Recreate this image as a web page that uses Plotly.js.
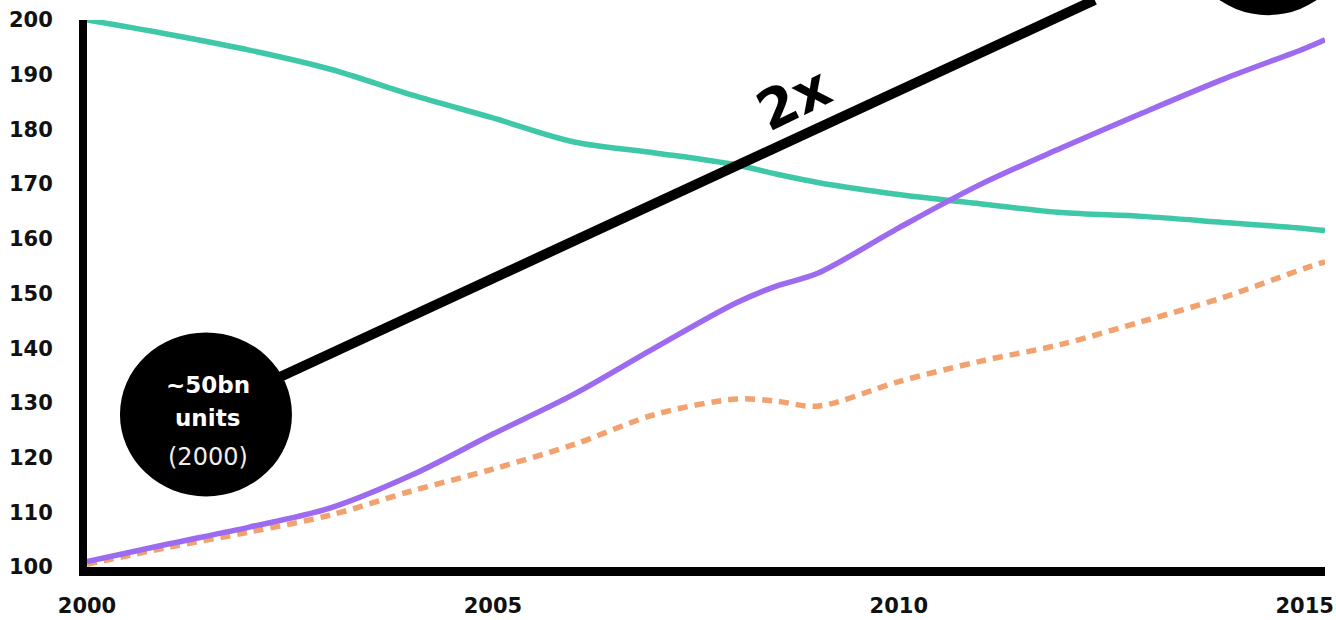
<!DOCTYPE html>
<html>
<head>
<meta charset="utf-8">
<script src="https://cdn.plot.ly/plotly-3.0.1.min.js"></script>
<style>html,body{margin:0;padding:0;background:#fff;}#chart{width:1336px;height:620px;}</style>
</head>
<body>
<div id="chart"></div>
<script>
// Index values (2000 = 100)
var years = [2000, 2001, 2002, 2003, 2004, 2005, 2006, 2007, 2008, 2008.5, 2009, 2010, 2011, 2012, 2013, 2014, 2015, 2015.25];
var tealSeries   = [200, 197.4, 194.5, 191.0, 186.3, 182.1, 177.7, 175.7, 173.5, 171.8, 170.3, 168.1, 166.4, 164.8, 164.1, 163.0, 161.9, 161.5];
var purpleSeries = [101, 104.2, 107.3, 110.8, 116.8, 124.3, 131.6, 140.1, 148.3, 151.4, 153.7, 162.0, 169.9, 176.6, 183.0, 189.2, 194.8, 196.4];
var orangeSeries = [100.5, 103.6, 106.4, 109.5, 113.9, 117.9, 122.4, 127.9, 130.7, 130.3, 129.4, 133.9, 137.6, 140.7, 144.9, 149.3, 154.6, 155.8];
var xTickVals = [2000, 2005, 2010, 2015];
var xTickText = ['2000', '2005', '2010', '2015'];
var yTickVals = [100, 110, 120, 130, 140, 150, 160, 170, 180, 190, 200];
var yTickText = ['100', '110', '120', '130', '140', '150', '160', '170', '180', '190', '200'];
var circleLabel = ['~50bn', 'units', '(2000)'];
var doublingLabel = '2x';

var tickFont = {family: 'DejaVu Sans', size: 21, color: '#111', weight: 'bold'};

var traces = [
  {x: years, y: tealSeries, mode: 'lines', line: {color: '#3fc8a8', width: 5.5, shape: 'spline', smoothing: 0.9}, hoverinfo: 'skip'},
  {x: years, y: orangeSeries, mode: 'lines', line: {color: '#f2a26e', width: 5.5, dash: '10px,7px', shape: 'spline', smoothing: 0.9}, hoverinfo: 'skip'},
  {x: years, y: purpleSeries, mode: 'lines', line: {color: '#9d6bf0', width: 5.5, shape: 'spline', smoothing: 0.9}, hoverinfo: 'skip'}
];

var layout = {
  width: 1336, height: 620,
  margin: {l: 87, r: 11, t: 20, b: 53},
  paper_bgcolor: '#fff', plot_bgcolor: '#fff',
  showlegend: false,
  xaxis: {
    range: [2000, 2015.25], tickvals: xTickVals, ticktext: xTickText,
    showgrid: false, zeroline: false, showline: true, linecolor: '#000', linewidth: 9,
    ticks: '', tickfont: tickFont, ticklabelstandoff: 12
  },
  yaxis: {
    range: [100, 200], tickvals: yTickVals, ticktext: yTickText,
    showgrid: false, zeroline: false, showline: true, linecolor: '#000', linewidth: 8,
    ticks: '', tickfont: tickFont, ticklabelstandoff: 22
  },
  shapes: [
    {type: 'line', xref: 'paper', yref: 'paper', x0: 0.12, y0: 0.31, x1: 0.814, y1: 1.0365,
     line: {color: '#000', width: 10}, layer: 'above'},
    {type: 'circle', xref: 'paper', yref: 'paper', xsizemode: 'pixel', ysizemode: 'pixel',
     xanchor: 0.0961, yanchor: 0.279, x0: -86, x1: 86, y0: -82, y1: 82,
     fillcolor: '#000', line: {width: 0}, layer: 'above'},
    {type: 'circle', xref: 'paper', yref: 'paper', xsizemode: 'pixel', ysizemode: 'pixel',
     xanchor: 0.954, yanchor: 1.1588, x0: -84, x1: 84, y0: -82, y1: 82,
     fillcolor: '#000', line: {width: 0}, layer: 'above'}
  ],
  annotations: [
    {xref: 'paper', yref: 'paper', x: 0.571, y: 0.855, xanchor: 'center', yanchor: 'middle', text: doublingLabel, showarrow: false, textangle: -26,
     font: {family: 'DejaVu Sans', size: 55, color: '#000', weight: 'bold'}},
    {xref: 'paper', yref: 'paper', x: 0.0977, y: 0.332, xanchor: 'center', yanchor: 'middle', text: circleLabel[0], showarrow: false,
     font: {family: 'DejaVu Sans', size: 23, color: '#fff', weight: 'bold'}},
    {xref: 'paper', yref: 'paper', x: 0.0977, y: 0.272, xanchor: 'center', yanchor: 'middle', text: circleLabel[1], showarrow: false,
     font: {family: 'DejaVu Sans', size: 23, color: '#fff', weight: 'bold'}},
    {xref: 'paper', yref: 'paper', x: 0.0977, y: 0.2007, xanchor: 'center', yanchor: 'middle', text: circleLabel[2], showarrow: false,
     font: {family: 'DejaVu Sans', size: 24, color: '#eee'}}
  ]
};

Plotly.newPlot('chart', traces, layout, {staticPlot: true, displayModeBar: false});
</script>
</body>
</html>
